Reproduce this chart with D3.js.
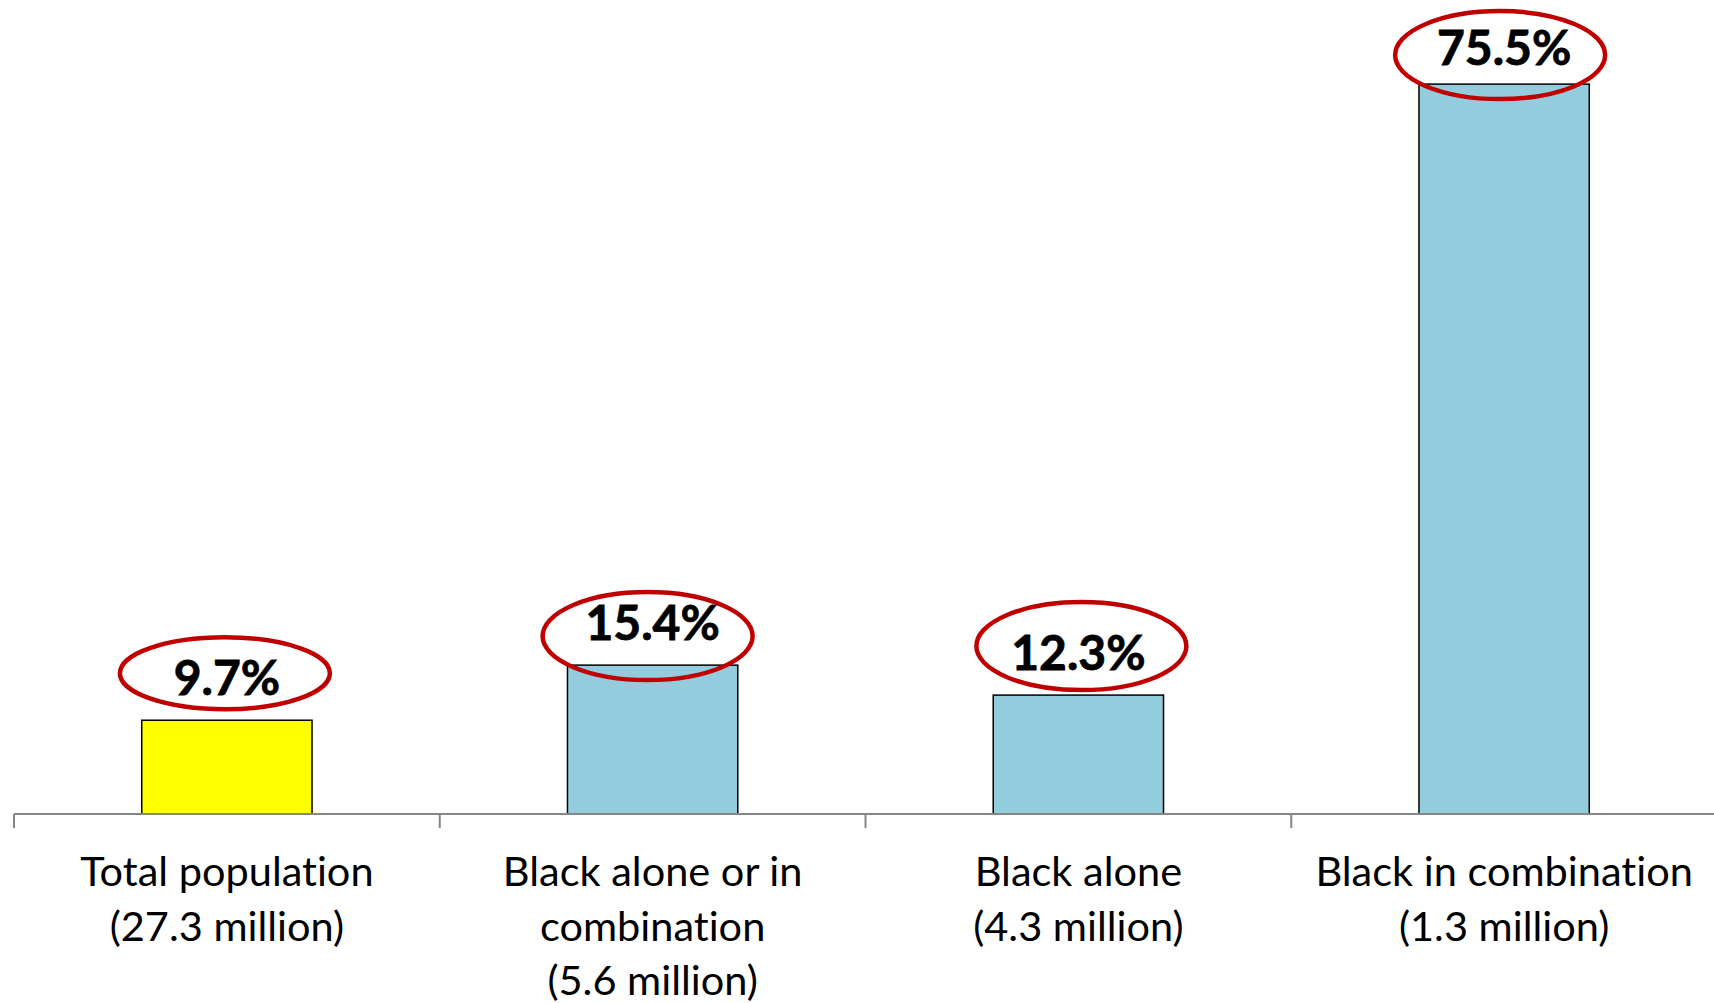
<!DOCTYPE html>
<html>
<head>
<meta charset="utf-8">
<script src="https://cdn.jsdelivr.net/npm/d3@7"></script>
<style>
  html, body { margin: 0; padding: 0; background: #ffffff; }
  svg { display: block; }
  text { font-variant-ligatures: none; font-feature-settings: "liga" 0, "dlig" 0; }
</style>
</head>
<body>
<svg id="chart" width="1714" height="1003"></svg>
<script>
// ---- data ----
const categories = ["Total population", "Black alone or in combination", "Black alone", "Black in combination"];
const categoryLines = [
  ["Total population", "(27.3 million)"],
  ["Black alone or in", "combination", "(5.6 million)"],
  ["Black alone", "(4.3 million)"],
  ["Black in combination", "(1.3 million)"]
];
const values = [9.7, 15.4, 12.3, 75.5];
const valueLabels = ["9.7%", "15.4%", "12.3%", "75.5%"];

// ---- layout / style ----
const W = 1714, H = 1003;
const axisY = 814;
const barColors = ["#FFFF00", "#93CDDD", "#93CDDD", "#93CDDD"];
// value label gap above the bar top (px)
const labelGap = [25, 25, 25, 19];
// hand-placed highlight ovals, offsets relative to each value label
const ovalLayout = [
  { dx: -2, dy: -5, rx: 105, ry: 36 },
  { dx: -5, dy: 13, rx: 105, ry: 44 },
  { dx: 3,  dy: -7, rx: 105, ry: 44 },
  { dx: -4, dy: 7,  rx: 105, ry: 44 }
];

const svg = d3.select("#chart");

const x = d3.scaleBand().domain(categories).range([14, 1717]).paddingInner(0).paddingOuter(0);
const y = d3.scaleLinear().domain([0, 84.2]).range([axisY, 0]);
const barW = x.bandwidth() * 0.4;

const data = categories.map((c, i) => ({ c, v: values[i], lab: valueLabels[i], lines: categoryLines[i], i }));

// bars
svg.append("g").selectAll("rect").data(data).join("rect")
  .attr("x", d => x(d.c) + (x.bandwidth() - barW) / 2)
  .attr("y", d => y(d.v))
  .attr("width", barW)
  .attr("height", d => y(0) - y(d.v))
  .attr("fill", d => barColors[d.i])
  .attr("stroke", "#000")
  .attr("stroke-width", 1.5);

// axis line + ticks at category boundaries
const ax = svg.append("g");
ax.append("line")
  .attr("x1", x.range()[0]).attr("x2", W)
  .attr("y1", axisY).attr("y2", axisY)
  .attr("stroke", "#868686").attr("stroke-width", 2);
ax.selectAll("line.tick").data(categories).join("line")
  .attr("class", "tick")
  .attr("x1", d => x(d)).attr("x2", d => x(d))
  .attr("y1", axisY).attr("y2", axisY + 14)
  .attr("stroke", "#868686").attr("stroke-width", 2);

// category labels
const lab = svg.append("g").selectAll("text").data(data).join("text")
  .attr("x", d => x(d.c) + x.bandwidth() / 2)
  .attr("y", 886)
  .attr("text-anchor", "middle")
  .attr("font-family", "Lato, 'Open Sans', sans-serif")
  .attr("font-size", 41.5)
  .attr("fill", "#000");
lab.selectAll("tspan").data(d => d.lines.map(l => ({ l, cx: x(d.c) + x.bandwidth() / 2 }))).join("tspan")
  .attr("x", t => t.cx)
  .attr("dy", (t, j) => j === 0 ? 0 : 54.5)
  .text(t => t.l);

// value labels
const valY = d => y(d.v) - labelGap[d.i];
svg.append("g").selectAll("text").data(data).join("text")
  .attr("x", d => x(d.c) + x.bandwidth() / 2)
  .attr("y", valY)
  .attr("text-anchor", "middle")
  .attr("font-family", "Lato, 'Open Sans', sans-serif")
  .attr("font-weight", "bold")
  .attr("font-size", 48)
  .attr("fill", "#000")
  .attr("stroke", "#000")
  .attr("stroke-width", 0.8)
  .text(d => d.lab);

// highlight ovals
svg.append("g").selectAll("ellipse").data(data).join("ellipse")
  .attr("cx", d => x(d.c) + x.bandwidth() / 2 + ovalLayout[d.i].dx)
  .attr("cy", d => valY(d) - 17 + ovalLayout[d.i].dy)
  .attr("rx", d => ovalLayout[d.i].rx)
  .attr("ry", d => ovalLayout[d.i].ry)
  .attr("fill", "none")
  .attr("stroke", "#C00000")
  .attr("stroke-width", 4.5);
</script>
</body>
</html>
